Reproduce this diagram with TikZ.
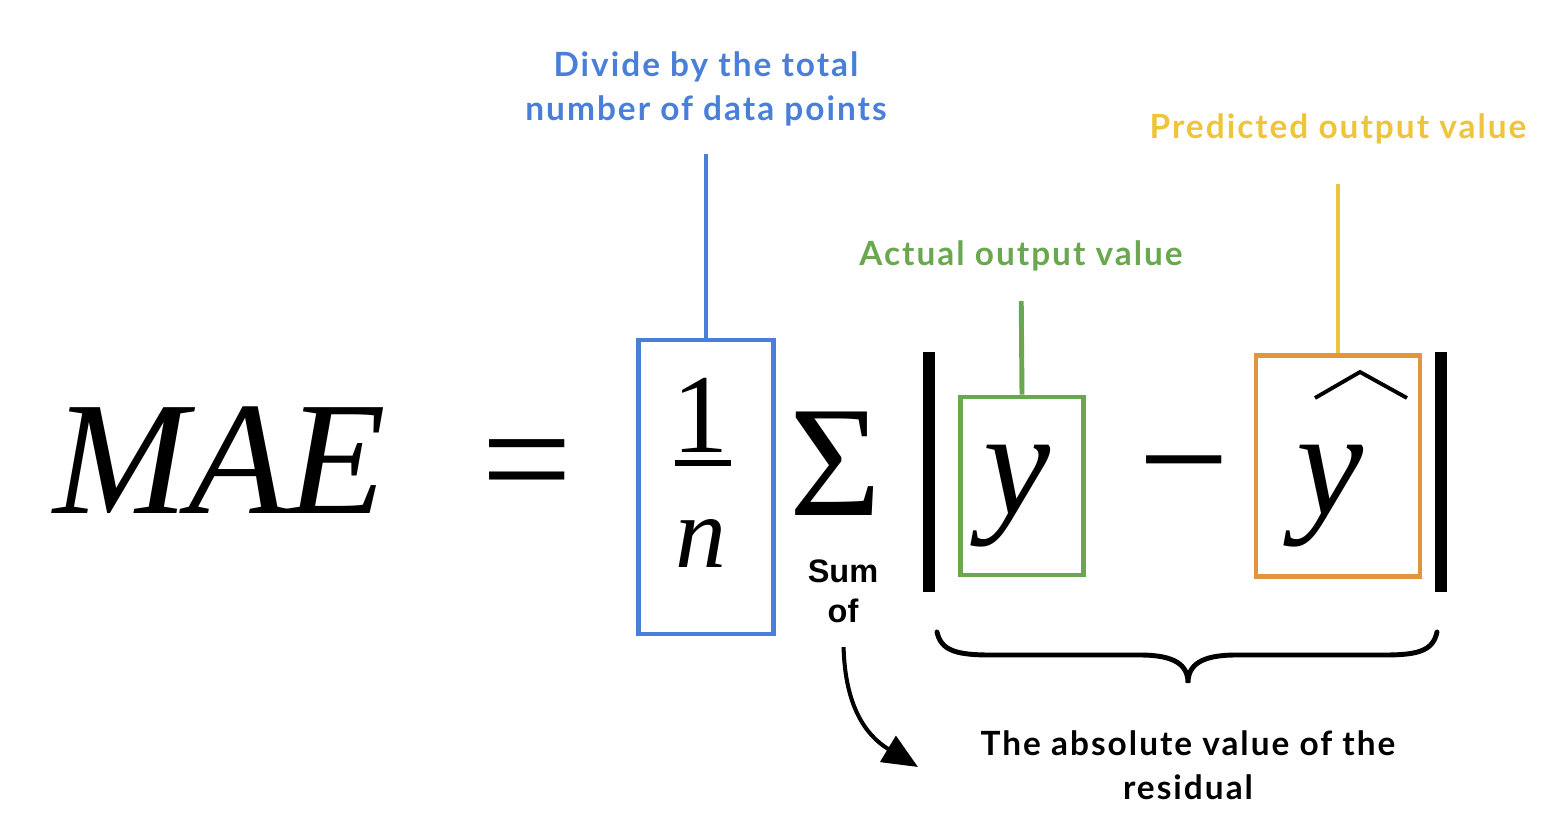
\documentclass[tikz,border=0pt]{standalone}
\usepackage{fontspec}
\setmainfont{Liberation Serif}
\newfontfamily\lblfont[LetterSpace=6]{Lato}
\newfontfamily\sumfont{Liberation Sans}
\usetikzlibrary{arrows.meta}
\definecolor{tagblue}{HTML}{4A7FD9}
\definecolor{taggreen}{HTML}{6AA84F}
\definecolor{tagorange}{HTML}{E0963F}
\definecolor{tagyellow}{HTML}{EEC53A}

\begin{document}
\begin{tikzpicture}[x=0.02cm,y=-0.02cm,
  lbl/.style={font=\lblfont\bfseries\fontsize{19}{25}\selectfont, align=center, inner sep=0pt, anchor=north},
  bigmath/.style={font=\fontsize{92}{92}\selectfont, inner sep=0pt, anchor=base},
  tagbox/.style={draw, line width=2.8pt, inner sep=0pt},
  stem/.style={line width=2.8pt},
  bar/.style={line width=6.5pt}]
  \useasboundingbox (0,0) rectangle (1560,822);

  % formula
  \node[bigmath] (mae) at (220,513) {\itshape MAE};
  \node[bigmath] (eq) at (527,513) {=};
  \node[tagbox, tagblue, minimum width=2.7cm, minimum height=5.88cm] (fracbox) at (706,487) {};
  \node[bigmath, font=\fontsize{64}{64}\selectfont] (one) at (701,452) {1};
  \draw[line width=3.8pt] (675,463) -- (731,463);
  \node[bigmath, font=\fontsize{58}{58}\selectfont\itshape] (n) at (701,567) {n};
  \node[bigmath, font=\fontsize{90}{90}\selectfont] (sigma) at (836,515) {Σ};
  \draw[bar] (929,352) -- (929,592);
  \node[tagbox, taggreen, minimum width=2.46cm, minimum height=3.56cm] (ybox) at (1022,486) {};
  \node[bigmath, font=\fontsize{86}{86}\selectfont\itshape] (y) at (1017,514) {y};
  \node[bigmath] (minus) at (1184,513) {−};
  \node[tagbox, tagorange, minimum width=3.28cm, minimum height=4.42cm] (yhatbox) at (1338,466) {};
  \node[bigmath, font=\fontsize{86}{86}\selectfont\itshape] (yhat) at (1330,514) {y};
  \draw[line width=2.2pt] (1315,398) -- (1360,372) -- (1407,398);
  \draw[bar] (1441,352) -- (1441,592);

  % labels
  \node[lbl, tagblue] (divlbl) at (706,51) {Divide by the total\\number of data points};
  \node[lbl, taggreen] (actlbl) at (1021,240) {Actual output value};
  \node[lbl, tagyellow] (predlbl) at (1338,113) {Predicted output value};
  \node[font=\sumfont\bfseries\fontsize{18.5}{23}\selectfont, align=center, inner sep=0pt, anchor=north] (sumlbl) at (843,559) {Sum\\of};
  \node[lbl] (abslbl) at (1188,730) {The absolute value of the\\residual};

  \draw[stem, tagblue, shorten <=0.56cm] (divlbl.south) -- (fracbox.north);
  \draw[stem, taggreen, shorten <=0.6cm] (actlbl.south) -- (ybox.north);
  \draw[stem, tagyellow, shorten <=0.8cm] (predlbl.south) -- (yhatbox.north);

  % brace and arrow
  \draw[line width=2.8pt, line cap=round] (937,632) .. controls (941,650) and (955,655) .. (990,655)
    -- (1140,655) .. controls (1175,655) and (1188,665) .. (1188,683)
    .. controls (1188,665) and (1201,655) .. (1236,655) -- (1385,655)
    .. controls (1420,655) and (1433,650) .. (1437,632);
  \draw[line width=2.3pt, -{Triangle[length=20pt, width=17pt]}, shorten <=0.48cm]
    (sumlbl.south) .. controls (845,705) and (865,735) .. (918,767);
\end{tikzpicture}
\end{document}
